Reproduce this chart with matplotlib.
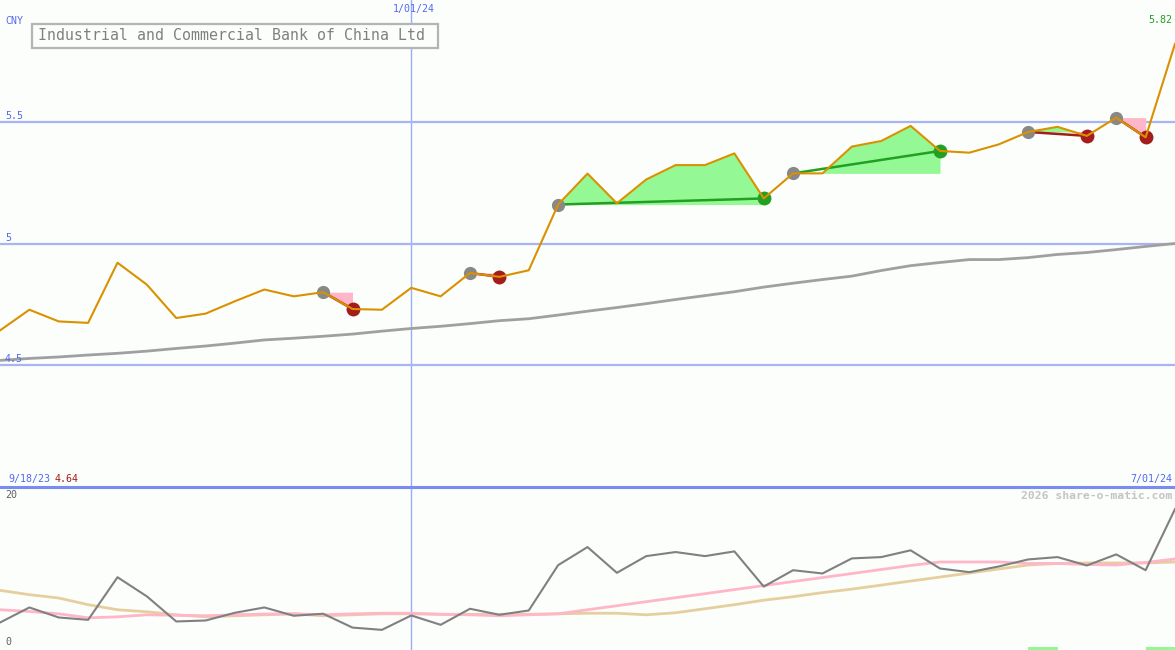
import numpy as np
import matplotlib
matplotlib.use("Agg")
import matplotlib.pyplot as plt
from matplotlib.patches import Rectangle

# weekly closes (CNY), 9/18/23 .. 7/01/24
price = [4.643, 4.728, 4.680, 4.674, 4.921, 4.831, 4.694, 4.712, 4.763, 4.811,
         4.783, 4.800, 4.731, 4.728, 4.818, 4.783, 4.879, 4.863, 4.890, 5.160,
         5.287, 5.165, 5.263, 5.322, 5.322, 5.370, 5.185, 5.288, 5.288, 5.398,
         5.421, 5.483, 5.380, 5.373, 5.407, 5.458, 5.479, 5.442, 5.517, 5.436,
         5.820]

# long moving average (grey line in price panel)
ma_long = [4.520, 4.528, 4.534, 4.542, 4.549, 4.558, 4.569, 4.579, 4.591, 4.604,
           4.611, 4.619, 4.628, 4.640, 4.651, 4.660, 4.671, 4.683, 4.691, 4.706,
           4.722, 4.737, 4.753, 4.770, 4.786, 4.802, 4.821, 4.837, 4.852, 4.866,
           4.889, 4.909, 4.922, 4.934, 4.934, 4.942, 4.955, 4.963, 4.975, 4.988,
           5.000]

# lower panel indicator + its two averages
ind = [3.37, 5.22, 3.99, 3.70, 8.93, 6.58, 3.50, 3.62, 4.57, 5.22,
       4.20, 4.45, 2.75, 2.47, 4.24, 3.09, 5.06, 4.32, 4.85, 10.41,
       12.63, 9.47, 11.52, 12.02, 11.52, 12.10, 7.78, 9.79, 9.39, 11.24,
       11.40, 12.23, 10.00, 9.55, 10.25, 11.11, 11.40, 10.37, 11.73, 9.79,
       17.29]
ind_fast = [4.94, 4.73, 4.44, 3.95, 4.07, 4.32, 4.26, 4.20, 4.32, 4.41,
            4.44, 4.32, 4.44, 4.51, 4.51, 4.38, 4.32, 4.20, 4.32, 4.44,
            4.94, 5.43, 5.93, 6.42, 6.91, 7.41, 7.90, 8.40, 8.89, 9.38,
            9.88, 10.37, 10.80, 10.80, 10.80, 10.62, 10.62, 10.49, 10.43, 10.74,
            11.17]
ind_slow = [7.32, 6.79, 6.38, 5.56, 4.94, 4.69, 4.32, 4.07, 4.20, 4.32,
            4.44, 4.20, 4.32, 4.44, 4.44, 4.38, 4.38, 4.38, 4.38, 4.44,
            4.51, 4.51, 4.32, 4.57, 5.06, 5.56, 6.11, 6.54, 7.04, 7.47,
            7.96, 8.46, 8.95, 9.44, 9.94, 10.43, 10.62, 10.68, 10.68, 10.68,
            10.80]

# trades: (entry index, exit index)
trades = [(11, 12), (16, 17), (19, 26), (27, 32), (35, 37), (38, 39)]
signal_bars = [35, 39]

year_start_idx = 14

BG = "#fbfefb"
GRID = "#a8b4f4"
BLUE_TXT = "#5468f0"
ORANGE = "#da9100"
PINK = "#ffb6c8"
GREEN_FILL = "#94f994"
WIN = "#22a022"
LOSS = "#a51c1c"

W, H = 1175, 650
fig = plt.figure(figsize=(W / 100, H / 100), dpi=100, facecolor=BG)

top_h = 487
ax = fig.add_axes([0, 1 - top_h / H, 1, top_h / H])
ax2 = fig.add_axes([0, 0, 1, (H - top_h) / H])
for a in (ax, ax2):
    a.set_facecolor(BG)
    a.set_xlim(0, len(price) - 1)
    a.axis("off")
    a.axvline(year_start_idx, color="#9cacf8", lw=1.0, zorder=0)

ax.set_ylim(4.0, 6.0)
ax2.set_ylim(0, 20)

x = np.arange(len(price))
p = np.array(price)

for lvl in (5.5, 5.0, 4.5):
    ax.axhline(lvl, color=GRID, lw=1.6, zorder=0)

ax.plot(x, ma_long, color="#a0a0a0", lw=2.0, zorder=2)

for s, e in trades:
    xs = x[s:e + 1]
    ys = p[s:e + 1]
    lvl = p[s]
    ax.fill_between(xs, lvl, ys, where=ys >= lvl, interpolate=True,
                    color=GREEN_FILL, lw=0, zorder=1)
    ax.fill_between(xs, lvl, ys, where=ys <= lvl, interpolate=True,
                    color=PINK, lw=0, zorder=1)
    col = WIN if p[e] > p[s] else LOSS
    ax.plot([s, e], [p[s], p[e]], color=col, lw=1.8, zorder=3)
    ax.plot(s, p[s], "o", color="#888888", ms=9.5, mew=0, zorder=4)
    ax.plot(e, p[e], "o", color=col, ms=10, mew=0, zorder=4)

ax.plot(x, p, color=ORANGE, lw=1.5, zorder=5)

# lower panel
ax2.plot(x, ind_slow, color="#e6cf9e", lw=2.0, zorder=2)
ax2.plot(x, ind_fast, color="#ffb6c8", lw=2.0, zorder=2)
ax2.plot(x, ind, color="#808080", lw=1.5, zorder=3)
ax2.bar(signal_bars, 0.4, width=1.0, align="edge", color=GREEN_FILL, lw=0)

# divider between panels
fig.add_artist(plt.Line2D([0, 1], [1 - top_h / H] * 2, color="#7b8cf0", lw=2.2))


def px(xp, yp):
    return xp / W, 1 - yp / H


mono = "DejaVu Sans Mono"
fs = 7.2
fig.text(*px(5, 21), "CNY", color=BLUE_TXT, fontsize=fs, family=mono, va="center")
fig.text(*px(414, 9), "1/01/24", color=BLUE_TXT, fontsize=fs, family=mono,
         va="center", ha="center")
fig.text(*px(1172, 20), f"{price[-1]:.2f}", color=WIN, fontsize=fs, family=mono,
         va="center", ha="right")
fig.text(*px(5, 116), "5.5", color=BLUE_TXT, fontsize=fs, family=mono, va="center")
fig.text(*px(5, 238), "5", color=BLUE_TXT, fontsize=fs, family=mono, va="center")
fig.text(*px(5, 359), "4.5", color=BLUE_TXT, fontsize=fs, family=mono, va="center")
fig.text(*px(8, 479), "9/18/23", color=BLUE_TXT, fontsize=fs, family=mono, va="center")
fig.text(*px(55, 479), f"{price[0]:.2f}", color=LOSS, fontsize=fs, family=mono,
         va="center")
fig.text(*px(1172, 479), "7/01/24", color=BLUE_TXT, fontsize=fs, family=mono,
         va="center", ha="right")
fig.text(*px(5, 495), "20", color="#606060", fontsize=fs, family=mono, va="center")
fig.text(*px(5, 642), "0", color="#606060", fontsize=fs, family=mono, va="center")
fig.text(*px(1172, 496), "2026 share-o-matic.com", color="#c4c4c4", fontsize=8.2,
         family=mono, weight="bold", va="center", ha="right")

# title box
x0, y0 = px(32, 48)
x1, y1 = px(438, 24)
fig.add_artist(Rectangle((x0, y0), x1 - x0, y1 - y0, transform=fig.transFigure,
                         fc=BG, ec="#b4b4b4", lw=1.6, zorder=10))
fig.text(*px(38, 36), "Industrial and Commercial Bank of China Ltd", color="#808080",
         fontsize=10.75, family=mono, va="center", zorder=11)

fig.savefig("out.png", dpi=100, facecolor=BG)
